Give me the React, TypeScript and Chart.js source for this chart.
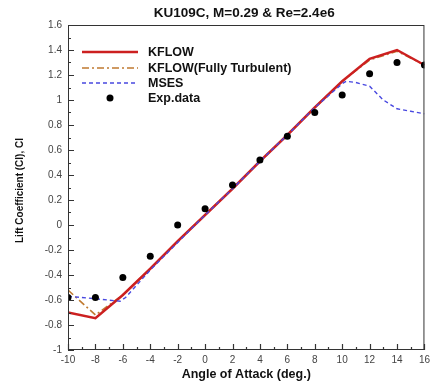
import React, { useEffect, useRef } from "react";
import { Chart, registerables } from "chart.js";

Chart.register(...registerables);

const TITLE = "KU109C, M=0.29 & Re=2.4e6";
const X_TITLE = "Angle of Attack (deg.)";
const Y_TITLE = "Lift Coefficient (Cl), Cl";

const kflowAoA = [-10, -8, -6, -4, -2, 0, 2, 4, 6, 8, 10, 12, 14, 16];
const kflowCl = [-0.7, -0.745, -0.56, -0.35, -0.13, 0.08, 0.29, 0.51, 0.72, 0.94, 1.15, 1.33, 1.4, 1.28];

const turbAoA = [-10, -8, -6, -4, -2, 0, 2, 4, 6, 8, 10, 12, 14, 16];
const turbCl = [-0.52, -0.72, -0.56, -0.35, -0.13, 0.08, 0.29, 0.51, 0.72, 0.94, 1.15, 1.32, 1.39, 1.28];

const msesAoA = [-10, -8, -6.2, -5.8, -4, -2, 0, 2, 4, 6, 8, 10, 10.3, 11, 12, 13, 14, 15, 16];
const msesCl = [-0.57, -0.59, -0.61, -0.58, -0.36, -0.14, 0.08, 0.29, 0.51, 0.72, 0.94, 1.13, 1.15, 1.14, 1.11, 1.0, 0.93, 0.91, 0.89];

const expAoA = [-10, -8, -6, -4, -2, 0, 2, 4, 6, 8, 10, 12, 14, 16];
const expCl = [-0.58, -0.58, -0.42, -0.25, 0.0, 0.13, 0.32, 0.52, 0.71, 0.9, 1.04, 1.21, 1.3, 1.28];

const X_MIN = -10, X_MAX = 16, Y_MIN = -1, Y_MAX = 1.6;

const toPts = (xs: number[], ys: number[]) => xs.map((x, i) => ({ x, y: ys[i] }));

const FONT = "'Liberation Sans', Arial, sans-serif";

export default function App() {
  const ref = useRef<HTMLCanvasElement | null>(null);
  useEffect(() => {
    document.body.style.margin = "0";
    const canvas = ref.current!;
    const decor = {
      id: "decor",
      afterDatasetsDraw(chart: any) {
        const { ctx, chartArea: a, scales } = chart;
        const xs = scales.x, ys = scales.y;
        ctx.save();
        ctx.strokeStyle = "#333";
        ctx.lineWidth = 1;
        ctx.strokeRect(a.left + 0.5, a.top + 0.5, a.right - a.left - 1, a.bottom - a.top - 1);
        ctx.lineWidth = 1.2;
        ctx.beginPath();
        for (let v = X_MIN; v <= X_MAX; v += 1) {
          const px = Math.round(xs.getPixelForValue(v)) + 0.5;
          const len = v % 2 === 0 ? 6 : 3;
          ctx.moveTo(px, a.bottom);
          ctx.lineTo(px, a.bottom - len);
        }
        for (let i = 0; i <= 26; i++) {
          const v = Y_MIN + i * 0.1;
          const py = Math.round(ys.getPixelForValue(v)) + 0.5;
          const len = i % 2 === 0 ? 6 : 3;
          ctx.moveTo(a.left, py);
          ctx.lineTo(a.left + len, py);
        }
        ctx.stroke();

        // titles
        ctx.fillStyle = "#111";
        ctx.textAlign = "center";
        ctx.textBaseline = "middle";
        ctx.font = `bold 13.5px ${FONT}`;
        ctx.fillText(TITLE, (a.left + a.right) / 2 - 2, 13);
        ctx.font = `bold 12.5px ${FONT}`;
        ctx.fillText(X_TITLE, (a.left + a.right) / 2, 375);
        ctx.save();
        ctx.translate(20, (a.top + a.bottom) / 2 + 3);
        ctx.rotate(-Math.PI / 2);
        ctx.font = `bold 10px ${FONT}`;
        ctx.fillText(Y_TITLE, 0, 0);
        ctx.restore();

        // legend
        const ds = chart.data.datasets;
        const rows = [52, 68, 83, 98];
        ctx.textAlign = "left";
        ctx.font = `bold 12.5px ${FONT}`;
        ds.forEach((d: any, i: number) => {
          const y = rows[i];
          ctx.save();
          if (d.showLine !== false) {
            ctx.strokeStyle = d.borderColor;
            ctx.lineWidth = d.borderWidth;
            ctx.setLineDash(d.borderDash || []);
            ctx.beginPath();
            ctx.moveTo(82, y);
            ctx.lineTo(138, y);
            ctx.stroke();
          } else {
            ctx.fillStyle = d.backgroundColor;
            ctx.beginPath();
            ctx.arc(110, y, d.pointRadius, 0, Math.PI * 2);
            ctx.fill();
          }
          ctx.restore();
          ctx.fillStyle = "#111";
          ctx.fillText(d.label, 148, y + 1);
        });
        ctx.restore();
      },
    };

    const chart = new Chart(canvas, {
      type: "scatter",
      data: {
        datasets: [
          {
            label: "KFLOW",
            data: toPts(kflowAoA, kflowCl),
            showLine: true,
            borderColor: "#cc2020",
            backgroundColor: "#cc2020",
            borderWidth: 2.5,
            pointRadius: 0,
            order: 1,
          },
          {
            label: "KFLOW(Fully Turbulent)",
            data: toPts(turbAoA, turbCl),
            showLine: true,
            borderColor: "#c07a30",
            backgroundColor: "#c07a30",
            borderWidth: 1.6,
            borderDash: [7, 3, 2, 3],
            pointRadius: 0,
            order: 2,
          },
          {
            label: "MSES",
            data: toPts(msesAoA, msesCl),
            showLine: true,
            borderColor: "#4848e0",
            backgroundColor: "#4848e0",
            borderWidth: 1.4,
            borderDash: [4, 3],
            pointRadius: 0,
            order: 0,
          },
          {
            label: "Exp.data",
            data: toPts(expAoA, expCl),
            showLine: false,
            borderColor: "#000",
            backgroundColor: "#000",
            pointRadius: 3.5,
            borderWidth: 0,
            order: -1,
          },
        ],
      },
      options: {
        responsive: false,
        animation: false,
        layout: { padding: { left: 0, right: 9, top: 25, bottom: 0 } },
        plugins: { legend: { display: false }, tooltip: { enabled: false }, title: { display: false } },
        scales: {
          x: {
            type: "linear",
            min: X_MIN,
            max: X_MAX,
            afterFit: (s: any) => { s.height = 37; },
            grid: { display: false, drawTicks: false },
            border: { display: false },
            ticks: { stepSize: 2, padding: 4, color: "#444", font: { family: FONT, size: 10 } },
          },
          y: {
            type: "linear",
            min: Y_MIN,
            max: Y_MAX,
            afterFit: (s: any) => { s.width = 68; },
            grid: { display: false, drawTicks: false },
            border: { display: false },
            ticks: {
              stepSize: 0.2,
              padding: 6,
              color: "#444",
              font: { family: FONT, size: 10 },
              callback: (v: any) => String(Number(Number(v).toFixed(1))),
            },
          },
        },
      },
      plugins: [decor],
    } as any);
    return () => chart.destroy();
  }, []);
  return (
    <div style={{ width: 434, height: 387, background: "#fff" }}>
      <canvas ref={ref} width={434} height={387} />
    </div>
  );
}
